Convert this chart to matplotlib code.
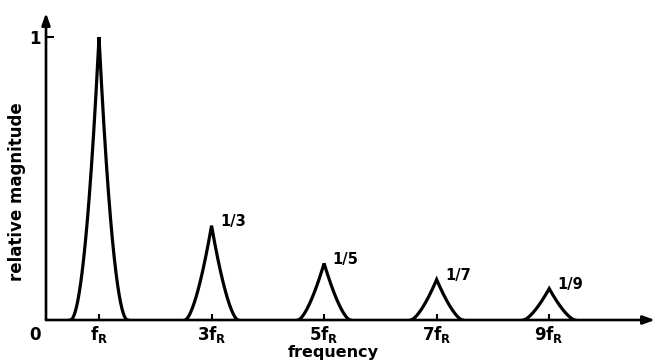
import numpy as np
import matplotlib.pyplot as plt

# Odd harmonics of the resonance frequency, magnitudes falling as 1/n
harmonics = [1, 3, 5, 7, 9]
magnitudes = [1, 1/3, 1/5, 1/7, 1/9]
tick_labels = [r'f$_\mathregular{R}$', r'3f$_\mathregular{R}$', r'5f$_\mathregular{R}$',
               r'7f$_\mathregular{R}$', r'9f$_\mathregular{R}$']
peak_labels = ['', '1/3', '1/5', '1/7', '1/9']

plt.rcParams['font.family'] = ['DejaVu Sans']
plt.rcParams['font.weight'] = 'bold'
plt.rcParams['mathtext.fontset'] = 'custom'
plt.rcParams['mathtext.rm'] = 'DejaVu Sans:bold'

W, H = 658, 362
fig = plt.figure(figsize=(W / 100, H / 100), dpi=100)
ax = fig.add_axes([46 / W, (H - 320) / H, (655 - 46) / W, (320 - 13) / H])

xmin, xmax = 0.058, 10.88
ymin, ymax = 0.0, 1.085
ax.set_xlim(xmin, xmax)
ax.set_ylim(ymin, ymax)

# Resonance peaks: cusp at the top, flaring out to the baseline
for n, h in zip(harmonics, magnitudes):
    half_base = 0.45 + 0.06 * h
    power = 1.4 + 0.6 * h
    x = np.linspace(n - half_base, n + half_base, 801)
    y = h * (1.0 - np.abs(x - n) / half_base) ** power
    ax.plot(x, y, color='black', lw=2.3, solid_joinstyle='miter')

# Peak value annotations
for n, h, lbl in zip(harmonics, magnitudes, peak_labels):
    if lbl:
        ax.annotate(lbl, xy=(n, h), xytext=(6, 3), textcoords='offset points',
                    ha='left', va='center', fontsize=10.5)

# Axes drawn as arrows
for sp in ax.spines.values():
    sp.set_visible(False)
arrow = dict(arrowstyle='-|>,head_length=0.7,head_width=0.25', lw=1.9,
             color='black', shrinkA=0, shrinkB=0)
ax.annotate('', xy=(xmax, 0), xytext=(xmin, 0), arrowprops=arrow,
            annotation_clip=False)
ax.annotate('', xy=(xmin, ymax), xytext=(xmin, 0), arrowprops=arrow,
            annotation_clip=False)

ax.set_xticks(harmonics, tick_labels)
ax.tick_params(axis='x', direction='in', length=4, width=1.5, pad=3,
               labelsize=12)
ax.set_yticks([1], ['1'])
ax.tick_params(axis='y', direction='in', length=6, width=1.5, pad=4,
               labelsize=12)

fig.text(35 / W, 1 - 335 / H, '0', ha='center', va='center', fontsize=12)
fig.text(333 / W, 1.5 / H, 'frequency', ha='center', va='bottom', fontsize=11.5)
fig.text(17 / W, 1 - 192 / H, 'relative magnitude', ha='center', va='center',
         rotation=90, fontsize=12)

fig.savefig('out.png', dpi=100)
